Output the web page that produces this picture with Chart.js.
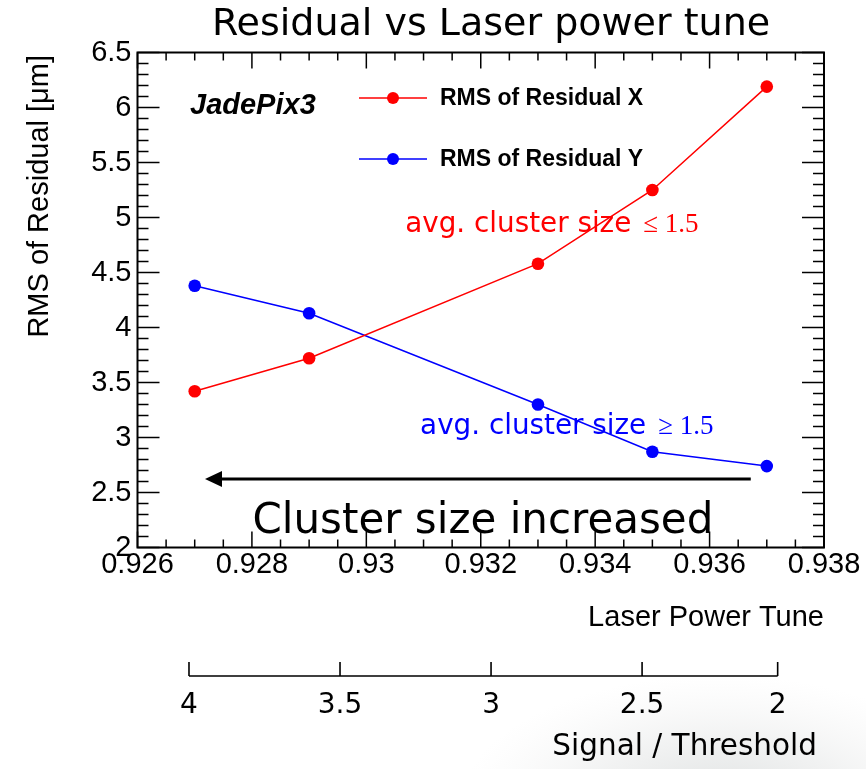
<!DOCTYPE html>
<html>
<head>
<meta charset="utf-8">
<script src="https://cdn.jsdelivr.net/npm/chart.js@4.4.1/dist/chart.umd.min.js"></script>
<style>
  html, body { margin: 0; padding: 0; background: #fff; }
  #wrap { position: relative; width: 866px; height: 769px; }
  canvas { display: block; }
</style>
</head>
<body>
<div id="wrap"><canvas id="chart" width="866" height="769"></canvas></div>
<script>
// Measured points: laser power tune setting vs RMS of the track residual
const laserTune     = [0.927, 0.929, 0.933, 0.935, 0.937];
const rmsResidualX  = [3.42, 3.72, 4.58, 5.25, 6.19];
const rmsResidualY  = [4.38, 4.13, 3.30, 2.87, 2.74];
const seriesNames   = ['RMS of Residual X', 'RMS of Residual Y'];

// Axis ticks (labelled majors; minors subdivide them)
const xTickLabels = ['0.926', '0.928', '0.93', '0.932', '0.934', '0.936', '0.938'];
const xMinorPerMajor = 4;
const yTickLabels = ['2', '2.5', '3', '3.5', '4', '4.5', '5', '5.5', '6', '6.5'];
const yMinorPerMajor = 5;

// Secondary scale: signal/threshold ratio at the corresponding tune setting
const signalThresholdLabels = ['4', '3.5', '3', '2.5', '2'];
const signalThresholdAtTune = [0.92690, 0.92954, 0.93218, 0.93482, 0.93719];

function subdivide(labels, n) {
  const vals = labels.map(Number);
  const out = [];
  for (let i = 0; i < vals.length - 1; i++) {
    for (let k = 0; k < n; k++) {
      out.push({ value: vals[i] + (vals[i + 1] - vals[i]) * k / n, label: k === 0 ? labels[i] : '' });
    }
  }
  out.push({ value: vals[vals.length - 1], label: labels[labels.length - 1] });
  return out;
}

const SANS = "'Liberation Sans', Arial, Helvetica, sans-serif";
const VERD = "'DejaVu Sans', Verdana, sans-serif";
const SERIF = "'Liberation Serif', 'Times New Roman', serif";

const pageBackground = {
  id: 'pageBackground',
  beforeDraw(chart) {
    const { ctx, width, height } = chart;
    ctx.save();
    ctx.fillStyle = '#ffffff';
    ctx.fillRect(0, 0, width, height);
    // faint grey wash in the lower right corner
    ctx.translate(720, 805);
    ctx.scale(2.0, 1);
    const g = ctx.createRadialGradient(0, 0, 5, 0, 0, 130);
    g.addColorStop(0, 'rgba(140,150,150,0.28)');
    g.addColorStop(0.5, 'rgba(160,166,166,0.14)');
    g.addColorStop(1, 'rgba(200,200,200,0)');
    ctx.fillStyle = g;
    ctx.fillRect(-400, -400, 800, 800);
    ctx.restore();
  }
};

// Box frame with inward ticks on all four sides
const frameTicks = {
  id: 'frameTicks',
  beforeDatasetsDraw(chart) {
    const { ctx, chartArea: a, scales: { x, y } } = chart;
    ctx.save();
    ctx.strokeStyle = '#000';
    ctx.lineWidth = 1.5;
    ctx.beginPath();
    x.ticks.forEach(t => {
      const px = x.getPixelForValue(t.value);
      const len = t.label ? 16 : 8;
      ctx.moveTo(px, a.bottom); ctx.lineTo(px, a.bottom - len);
      ctx.moveTo(px, a.top); ctx.lineTo(px, a.top + len);
    });
    y.ticks.forEach(t => {
      const py = y.getPixelForValue(t.value);
      const len = t.label ? 22 : 11;
      ctx.moveTo(a.left, py); ctx.lineTo(a.left + len, py);
      ctx.moveTo(a.right, py); ctx.lineTo(a.right - len, py);
    });
    ctx.stroke();
    ctx.lineWidth = 2;
    ctx.strokeRect(a.left, a.top, a.right - a.left, a.bottom - a.top);
    ctx.restore();
  }
};

// Bracket-style secondary axis line with upward ticks
const secondaryAxisLine = {
  id: 'secondaryAxisLine',
  afterDraw(chart) {
    const { ctx } = chart;
    const s = chart.scales.x2;
    const ys = s.top;
    const px = s.ticks.map(t => s.getPixelForValue(t.value));
    ctx.save();
    ctx.strokeStyle = '#000';
    ctx.lineWidth = 1.6;
    ctx.beginPath();
    ctx.moveTo(px[0], ys); ctx.lineTo(px[px.length - 1], ys);
    px.forEach(p => { ctx.moveTo(p, ys); ctx.lineTo(p, ys - 14); });
    ctx.stroke();
    ctx.restore();
  }
};

// Titles, legend and annotations
const labelsAndNotes = {
  id: 'labelsAndNotes',
  afterDraw(chart) {
    const { ctx, chartArea: a, scales: { x, y } } = chart;
    ctx.save();
    ctx.fillStyle = '#000';
    ctx.textBaseline = 'middle';

    // main title
    ctx.font = `38px ${VERD}`;
    ctx.textAlign = 'center';
    ctx.fillText('Residual vs Laser power tune', 491, 25);

    // y-axis title (right-aligned to top of axis)
    ctx.save();
    ctx.translate(40, 55);
    ctx.rotate(-Math.PI / 2);
    ctx.font = `29px ${SANS}`;
    ctx.textAlign = 'right';
    ctx.fillText('RMS of Residual [\u03bcm]', 0, 0);
    ctx.restore();

    // x-axis titles
    ctx.textAlign = 'right';
    ctx.font = `29px ${SANS}`;
    ctx.fillText('Laser Power Tune', a.right, 618);
    ctx.font = `29.5px ${VERD}`;
    ctx.fillText('Signal / Threshold', 817, 747);

    // experiment tag
    ctx.textAlign = 'left';
    ctx.font = `italic bold 29px ${SANS}`;
    ctx.fillText('JadePix3', 190, 106);

    // legend
    const ds = chart.data.datasets;
    const legendRows = [98, 159];
    ds.forEach((d, i) => {
      const ly = legendRows[i];
      ctx.strokeStyle = d.borderColor;
      ctx.lineWidth = 1.5;
      ctx.beginPath(); ctx.moveTo(359, ly); ctx.lineTo(427, ly); ctx.stroke();
      ctx.fillStyle = d.backgroundColor;
      ctx.beginPath(); ctx.arc(393, ly, 6, 0, Math.PI * 2); ctx.fill();
      ctx.fillStyle = '#000';
      ctx.font = `bold 23px ${SANS}`;
      ctx.fillText(d.label, 440, ly + 1);
    });

    // cluster-size notes
    const note = (color, x0, y0, rel) => {
      ctx.fillStyle = color;
      ctx.textBaseline = 'alphabetic';
      ctx.textAlign = 'left';
      ctx.font = `27.8px ${VERD}`;
      const lead = 'avg. cluster size';
      ctx.fillText(lead, x0, y0);
      const w = ctx.measureText(lead).width;
      ctx.font = `27px ${SERIF}`;
      ctx.fillText(rel + ' 1.5', x0 + w + 12, y0);
    };
    note('#ff0000', x.getPixelForValue(0.93068), y.getPixelForValue(4.87), '\u2264');
    note('#0000ff', x.getPixelForValue(0.93094), y.getPixelForValue(3.03), '\u2265');

    // arrow: lower tune -> larger clusters
    const ay = y.getPixelForValue(2.623);
    const xTail = x.getPixelForValue(0.93672);
    const xTip = x.getPixelForValue(0.92718);
    ctx.strokeStyle = '#000';
    ctx.fillStyle = '#000';
    ctx.lineWidth = 3;
    ctx.beginPath(); ctx.moveTo(xTail, ay); ctx.lineTo(xTip + 14, ay); ctx.stroke();
    ctx.beginPath();
    ctx.moveTo(xTip, ay); ctx.lineTo(xTip + 17, ay - 8); ctx.lineTo(xTip + 17, ay + 8);
    ctx.closePath(); ctx.fill();

    ctx.fillStyle = '#000';
    ctx.textAlign = 'center';
    ctx.font = `42px ${VERD}`;
    ctx.fillText('Cluster size increased', (x.getPixelForValue(0.92718) + x.getPixelForValue(0.93672)) / 2 + 5, 533);

    ctx.restore();
  }
};

const toPoints = ys => laserTune.map((t, i) => ({ x: t, y: ys[i] }));

new Chart(document.getElementById('chart'), {
  type: 'scatter',
  data: {
    datasets: [
      {
        label: seriesNames[0],
        data: toPoints(rmsResidualX),
        showLine: true,
        borderColor: '#ff0000',
        backgroundColor: '#ff0000',
        borderWidth: 1.5,
        pointRadius: 6.3,
        pointBorderWidth: 0,
        pointBackgroundColor: '#ff0000'
      },
      {
        label: seriesNames[1],
        data: toPoints(rmsResidualY),
        showLine: true,
        borderColor: '#0000ff',
        backgroundColor: '#0000ff',
        borderWidth: 1.5,
        pointRadius: 6.3,
        pointBorderWidth: 0,
        pointBackgroundColor: '#0000ff'
      }
    ]
  },
  options: {
    responsive: false,
    animation: false,
    devicePixelRatio: 1,
    layout: { padding: { left: 0, right: 42, top: 52.5, bottom: 0 } },
    plugins: { legend: { display: false }, tooltip: { enabled: false }, title: { display: false } },
    scales: {
      x: {
        type: 'linear',
        position: 'bottom',
        weight: 0,
        min: Number(xTickLabels[0]),
        max: Number(xTickLabels[xTickLabels.length - 1]),
        afterBuildTicks: s => { s.ticks = subdivide(xTickLabels, xMinorPerMajor); },
        afterFit: s => { s.height = 128.5; },
        grid: { display: false, drawTicks: false },
        border: { display: false },
        ticks: {
          autoSkip: false, maxRotation: 0, padding: 0,
          color: '#000', font: { family: SANS, size: 29 },
          callback: function (v, i, ticks) { return ticks[i].label; }
        }
      },
      x2: {
        type: 'linear',
        position: 'bottom',
        weight: 1,
        min: Number(xTickLabels[0]),
        max: Number(xTickLabels[xTickLabels.length - 1]),
        afterBuildTicks: s => { s.ticks = signalThresholdAtTune.map((v, i) => ({ value: v, label: signalThresholdLabels[i] })); },
        afterFit: s => { s.height = 93; },
        grid: { display: false, drawTicks: false },
        border: { display: false },
        ticks: {
          autoSkip: false, maxRotation: 0, padding: 13,
          color: '#000', font: { family: VERD, size: 28 },
          callback: function (v, i) { return signalThresholdLabels[i]; }
        }
      },
      y: {
        type: 'linear',
        position: 'left',
        min: Number(yTickLabels[0]),
        max: Number(yTickLabels[yTickLabels.length - 1]),
        afterBuildTicks: s => { s.ticks = subdivide(yTickLabels, yMinorPerMajor); },
        afterFit: s => { s.width = 137.5; },
        grid: { display: false, drawTicks: false },
        border: { display: false },
        ticks: {
          autoSkip: false, padding: 6,
          color: '#000', font: { family: SANS, size: 29 },
          callback: function (v, i, ticks) { return ticks[i].label; }
        }
      }
    }
  },
  plugins: [pageBackground, frameTicks, secondaryAxisLine, labelsAndNotes]
});
</script>
</body>
</html>
